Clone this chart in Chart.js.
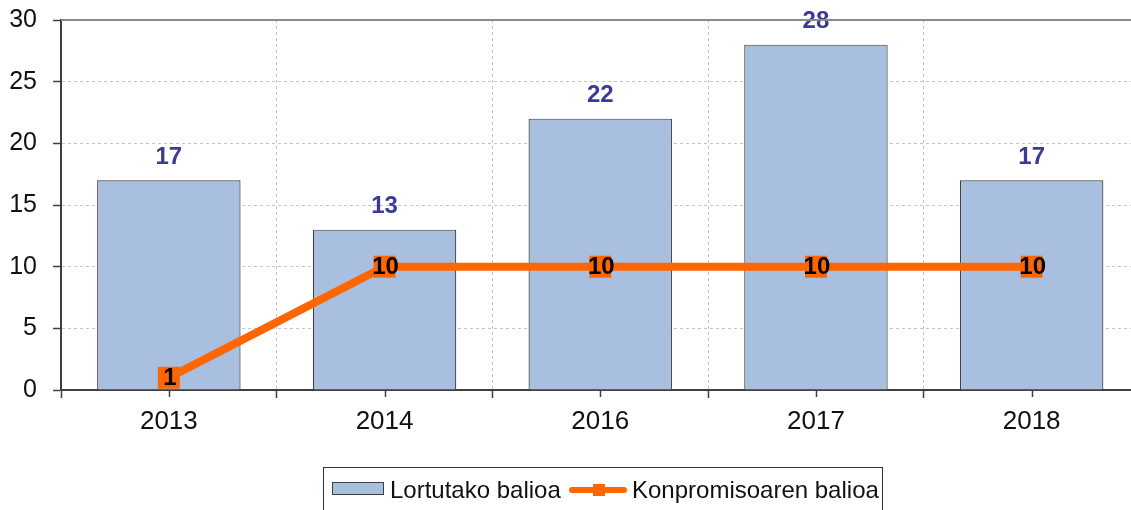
<!DOCTYPE html>
<html>
<head>
<meta charset="utf-8">
<script src="https://cdn.jsdelivr.net/npm/chart.js@4/dist/chart.umd.min.js"></script>
<style>
  html, body { margin: 0; padding: 0; background: #fff; overflow: hidden; }
  #wrap { position: relative; width: 1155px; height: 510px; }
  #c { display: block; }
  #legend { position: absolute; left: 323px; top: 467px; width: 558px; height: 42px;
    border: 1px solid #333; box-sizing: content-box; font-family: "Liberation Sans", Arial, sans-serif;
    font-size: 24px; color: #111; white-space: nowrap; }
  .sw { position: absolute; }
  .lt { position: absolute; top: 8px; line-height: 28px; }
</style>
</head>
<body>
<div id="wrap">
  <canvas id="c" width="1155" height="510"></canvas>
  <div id="legend">
    <div class="sw" style="left:8px;top:14px;width:50px;height:11px;background:#A9BFDF;border:1px solid #404040;"></div>
    <div class="lt" id="l1" style="left:66px;"></div>
    <div class="sw" style="left:245px;top:19px;width:58px;height:6px;background:#FF6600;border-radius:3px;"></div>
    <div class="sw" style="left:269px;top:16px;width:12px;height:12px;background:#FF6600;"></div>
    <div class="lt" id="l2" style="left:308px;"></div>
  </div>
</div>
<script>
const categories = ["2013", "2014", "2016", "2017", "2018"];
const lortutakoBalioa = [17, 13, 22, 28, 17];
const konpromisoarenBalioa = [1, 10, 10, 10, 10];
const seriesNames = ["Lortutako balioa", "Konpromisoaren balioa"];
const yTicks = [0, 5, 10, 15, 20, 25, 30];

document.getElementById('l1').textContent = seriesNames[0];
document.getElementById('l2').textContent = seriesNames[1];

const FONT = '"Liberation Sans", Arial, sans-serif';

const labelPlugin = {
  id: 'labels',
  afterDatasetsDraw(chart) {
    const ctx = chart.ctx;
    ctx.save();
    ctx.font = 'bold 24px ' + FONT;
    ctx.textAlign = 'center';
    ctx.textBaseline = 'middle';
    chart.data.datasets.forEach((ds, di) => {
      const meta = chart.getDatasetMeta(di);
      meta.data.forEach((el, i) => {
        if (ds.type === 'bar') {
          ctx.fillStyle = '#3A3A98';
          ctx.fillText(String(ds.data[i]), el.x, el.y - 23);
        } else {
          ctx.fillStyle = '#000';
          ctx.fillText(String(ds.data[i]), el.x + 1, el.y + 1);
        }
      });
    });
    ctx.restore();
  }
};

const framePlugin = {
  id: 'frame',
  afterDraw(chart) {
    const ctx = chart.ctx;
    const a = chart.chartArea;
    ctx.save();
    ctx.strokeStyle = '#8a8a8a';
    ctx.lineWidth = 2;
    ctx.beginPath();
    ctx.moveTo(a.left, a.top);
    ctx.lineTo(a.right, a.top);
    ctx.stroke();
    ctx.strokeStyle = '#404040';
    ctx.lineWidth = 1.5;
    const xs = chart.scales.x;
    categories.forEach((c, i) => {
      const x = Math.round(xs.getPixelForValue(i)) + 0.5;
      ctx.beginPath();
      ctx.moveTo(x, a.bottom);
      ctx.lineTo(x, a.bottom + 7);
      ctx.stroke();
    });
    ctx.restore();
  }
};

new Chart(document.getElementById('c'), {
  data: {
    labels: categories,
    datasets: [
      {
        type: 'bar',
        label: seriesNames[0],
        data: lortutakoBalioa,
        backgroundColor: '#A9BFDF',
        borderColor: '#404040',
        borderWidth: 1.2,
        categoryPercentage: 1,
        barPercentage: 0.665,
        order: 2
      },
      {
        type: 'line',
        label: seriesNames[1],
        data: konpromisoarenBalioa,
        borderColor: '#FF6600',
        backgroundColor: '#FF6600',
        borderWidth: 8,
        pointStyle: 'rect',
        pointRadius: 15.5,
        pointHoverRadius: 15.5,
        pointBorderWidth: 0,
        pointBackgroundColor: '#FF6600',
        tension: 0,
        order: 1
      }
    ]
  },
  options: {
    responsive: false,
    animation: false,
    events: [],
    layout: { padding: { left: 0, top: 20, right: 1, bottom: 0 } },
    plugins: {
      legend: { display: false },
      tooltip: { enabled: false }
    },
    scales: {
      x: {
        type: 'category',
        offset: true,
        afterFit(s) { s.height = 120; s.paddingLeft = 0; s.paddingRight = 0; },
        grid: {
          offset: true,
          color: '#c4c4c4',
          lineWidth: 1,
          drawTicks: true,
          tickLength: 8,
          tickColor: '#404040',
          tickWidth: 1.5
        },
        border: { display: true, color: '#404040', width: 2, dash: [3, 3] },
        ticks: { color: '#111', font: { family: FONT, size: 26 }, padding: 8, maxRotation: 0 }
      },
      y: {
        min: 0, max: 30,
        afterFit(s) { s.width = 61; s.paddingTop = 0; s.paddingBottom = 0; },
        afterBuildTicks(s) { s.ticks = yTicks.map(v => ({ value: v })); },
        grid: {
          color: ctx => (ctx.tick && (ctx.tick.value === 0 || ctx.tick.value === 30)) ? 'rgba(0,0,0,0)' : '#c4c4c4',
          lineWidth: 1,
          drawTicks: true,
          tickLength: 8,
          tickColor: '#404040',
          tickWidth: 1.5
        },
        border: { display: true, color: '#404040', width: 2, dash: [3, 3] },
        ticks: { color: '#111', font: { family: FONT, size: 25 }, padding: 16 }
      }
    }
  },
  plugins: [labelPlugin, framePlugin]
});
</script>
</body>
</html>
